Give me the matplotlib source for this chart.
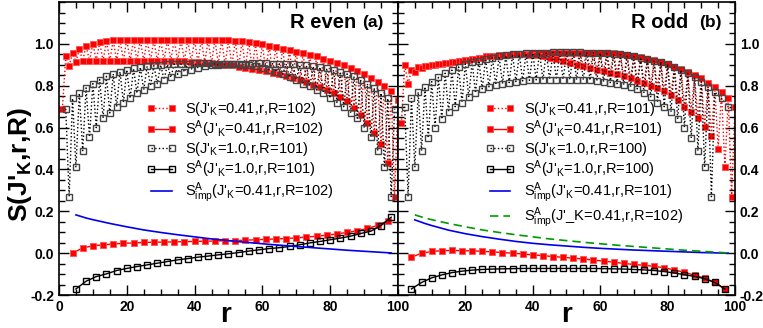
import matplotlib
matplotlib.use("Agg")
import matplotlib.pyplot as plt
import numpy as np
from matplotlib.ticker import MultipleLocator

plt.rcParams['font.family'] = ['Liberation Sans', 'DejaVu Sans']
plt.rcParams['mathtext.fontset'] = 'custom'
plt.rcParams['mathtext.rm'] = 'Liberation Sans'
plt.rcParams['mathtext.it'] = 'Liberation Sans'
plt.rcParams['mathtext.bf'] = 'Liberation Sans:bold'

# ---------------- panel (a): R even ----------------
# S(J'_K=0.41, r, R=102): odd r (lower branch) / even r (upper branch)
red_a_odd = [0.69, 0.895, 0.915, 0.92, 0.92, 0.92, 0.92, 0.92, 0.92, 0.92,
             0.92, 0.92, 0.92, 0.92, 0.92, 0.92, 0.92, 0.92, 0.918, 0.915,
             0.912, 0.91, 0.908, 0.905, 0.90, 0.897, 0.892, 0.887, 0.882, 0.876,
             0.87, 0.862, 0.855, 0.845, 0.837, 0.828, 0.817, 0.806, 0.793, 0.78,
             0.765, 0.748, 0.725, 0.695, 0.66, 0.62, 0.575, 0.52, 0.43, 0.27]
red_a_even = [0.94, 0.955, 0.975, 0.99, 1.0, 1.008, 1.013, 1.017, 1.02, 1.02,
              1.02, 1.02, 1.02, 1.02, 1.02, 1.02, 1.02, 1.02, 1.02, 1.02,
              1.02, 1.02, 1.02, 1.02, 1.018, 1.015, 1.012, 1.008, 1.003, 0.998,
              0.992, 0.986, 0.978, 0.97, 0.962, 0.955, 0.947, 0.94, 0.93, 0.92,
              0.91, 0.898, 0.885, 0.87, 0.855, 0.838, 0.82, 0.80, 0.775, 0.73]

# S(J'_K=1.0, r, R=101): even r 2..98 / odd r 3..99
blk_a_even = [0.69, 0.74, 0.765, 0.79, 0.81, 0.83, 0.845, 0.857, 0.867, 0.876,
              0.883, 0.889, 0.893, 0.897, 0.90, 0.902, 0.904, 0.905, 0.906, 0.907,
              0.907, 0.907, 0.906, 0.905, 0.903, 0.902, 0.90, 0.897, 0.893, 0.887,
              0.877, 0.866, 0.855, 0.84, 0.83, 0.81, 0.80, 0.78, 0.765, 0.74,
              0.72, 0.70, 0.67, 0.645, 0.60, 0.555, 0.49, 0.41, 0.27]
blk_a_odd = [0.27, 0.41, 0.49, 0.555, 0.60, 0.645, 0.67, 0.70, 0.72, 0.74,
             0.765, 0.78, 0.80, 0.81, 0.83, 0.84, 0.855, 0.866, 0.877, 0.887,
             0.893, 0.897, 0.90, 0.902, 0.903, 0.905, 0.906, 0.907, 0.907, 0.907,
             0.906, 0.905, 0.904, 0.902, 0.90, 0.897, 0.893, 0.889, 0.883, 0.876,
             0.867, 0.857, 0.845, 0.83, 0.81, 0.79, 0.765, 0.74, 0.69]

# S^A, every third site
rA_red_a = np.arange(4, 98, 3)
SA_red_a = [0.0, 0.025, 0.035, 0.04, 0.044, 0.047, 0.049, 0.051, 0.052, 0.053,
            0.054, 0.055, 0.056, 0.057, 0.058, 0.059, 0.06, 0.062, 0.064, 0.066,
            0.068, 0.07, 0.073, 0.077, 0.081, 0.086, 0.092, 0.099, 0.107, 0.118,
            0.133, 0.155]
rA_blk_a = np.arange(5, 99, 3)
SA_blk_a = [-0.171, -0.134, -0.112, -0.099, -0.083, -0.073, -0.064, -0.056, -0.048, -0.040,
            -0.032, -0.026, -0.019, -0.014, -0.008, -0.003, 0.003, 0.01, 0.016, 0.022,
            0.026, 0.032, 0.04, 0.049, 0.056, 0.064, 0.072, 0.081, 0.094, 0.105,
            0.132, 0.172]

# S^A_imp(J'_K=0.41, R=102)
r_imp = [5, 8, 10, 15, 20, 25, 30, 35, 40, 45, 50, 55, 60, 65, 70, 75, 80, 85, 90, 95, 98]
imp_102 = [0.183, 0.168, 0.16, 0.142, 0.126, 0.111, 0.099, 0.088, 0.078, 0.068,
           0.06, 0.052, 0.045, 0.038, 0.032, 0.026, 0.02, 0.014, 0.009, 0.004, 0.001]

# ---------------- panel (b): R odd ----------------
# S(J'_K=0.41, r, R=101)
red_b_odd = [0.62, 0.81, 0.865, 0.885, 0.895, 0.90, 0.905, 0.91, 0.915, 0.92,
             0.925, 0.93, 0.935, 0.94, 0.943, 0.946, 0.948, 0.95, 0.95, 0.948,
             0.945, 0.94, 0.935, 0.927, 0.918, 0.91, 0.90, 0.893, 0.885, 0.877,
             0.87, 0.862, 0.855, 0.845, 0.835, 0.823, 0.812, 0.80, 0.79, 0.775,
             0.755, 0.73, 0.70, 0.675, 0.645, 0.605, 0.56, 0.50, 0.41, 0.27]
red_b_even = [0.90, 0.875, 0.89, 0.895, 0.90, 0.905, 0.91, 0.915, 0.92, 0.925,
              0.93, 0.935, 0.94, 0.943, 0.946, 0.948, 0.95, 0.952, 0.954, 0.955,
              0.957, 0.957, 0.957, 0.957, 0.957, 0.957, 0.957, 0.957, 0.957, 0.957,
              0.957, 0.957, 0.953, 0.948, 0.943, 0.937, 0.93, 0.922, 0.913, 0.903,
              0.892, 0.88, 0.865, 0.85, 0.835, 0.815, 0.795, 0.77, 0.74, 0.70]

# S(J'_K=1.0, r, R=100): even r 2..98 (upper) / odd r 3..97 (lower)
blk_b_even = [0.70, 0.74, 0.77, 0.795, 0.82, 0.84, 0.86, 0.875, 0.89, 0.905,
              0.915, 0.92, 0.93, 0.935, 0.94, 0.945, 0.95, 0.952, 0.955, 0.957,
              0.958, 0.959, 0.96, 0.96, 0.96, 0.96, 0.96, 0.959, 0.958, 0.957,
              0.955, 0.952, 0.95, 0.945, 0.94, 0.935, 0.93, 0.92, 0.915, 0.905,
              0.89, 0.875, 0.86, 0.84, 0.82, 0.795, 0.77, 0.74, 0.70]
blk_b_odd = [0.27, 0.41, 0.49, 0.55, 0.60, 0.64, 0.675, 0.70, 0.72, 0.745,
             0.765, 0.785, 0.795, 0.805, 0.81, 0.815, 0.82, 0.823, 0.826, 0.828,
             0.829, 0.83, 0.83, 0.83, 0.83, 0.829, 0.828, 0.826, 0.823, 0.82,
             0.815, 0.81, 0.805, 0.795, 0.785, 0.765, 0.745, 0.72, 0.70, 0.675,
             0.64, 0.60, 0.55, 0.49, 0.41, 0.27]

rA_b = np.arange(4, 98, 3)
SA_red_b = [-0.02, 0.0, 0.008, 0.012, 0.013, 0.012, 0.011, 0.009, 0.006, 0.003,
            0.0, -0.004, -0.008, -0.012, -0.016, -0.02, -0.024, -0.028, -0.033, -0.038,
            -0.043, -0.049, -0.054, -0.058, -0.063, -0.070, -0.080, -0.092, -0.105, -0.12,
            -0.14, -0.172]
SA_blk_b = [-0.171, -0.14, -0.118, -0.104, -0.093, -0.086, -0.081, -0.078, -0.076, -0.075,
            -0.074, -0.073, -0.073, -0.073, -0.073, -0.073, -0.073, -0.073, -0.073, -0.074,
            -0.075, -0.076, -0.078, -0.080, -0.083, -0.088, -0.095, -0.103, -0.111, -0.122,
            -0.14, -0.171]

imp_101 = [0.159, 0.142, 0.132, 0.11, 0.093, 0.079, 0.067, 0.056, 0.047, 0.04,
           0.034, 0.028, 0.023, 0.019, 0.015, 0.012, 0.009, 0.006, 0.003, 0.001, 0.0]

yticks = [-0.2, 0.0, 0.2, 0.4, 0.6, 0.8, 1.0]
ylabels = ['-0.2', '0.0', '0.2', '0.4', '0.6', '0.8', '1.0']


def zigzag(odd_vals, even_vals, r_odd0, r_even0):
    r = np.concatenate([r_odd0 + 2 * np.arange(len(odd_vals)),
                        r_even0 + 2 * np.arange(len(even_vals))])
    v = np.concatenate([odd_vals, even_vals])
    o = np.argsort(r)
    return r[o], v[o]


RED = '#ff0000'
fig = plt.figure(figsize=(7.63, 3.28), dpi=100)
ax1 = fig.add_axes([0.0773, 0.1006, 0.4443, 0.893])
ax2 = fig.add_axes([0.5216, 0.1006, 0.4417, 0.893])

red_kw = dict(marker='s', ms=5, mfc=RED, mec='#ff5050', mew=0.6, color=RED, lw=1.0)
gry_kw = dict(marker='s', ms=5, mfc='none', mec='#444444', mew=1.0, color='black', lw=1.0)
blk_kw = dict(marker='s', ms=5, mfc='none', mec='black', mew=1.0, color='black', lw=1.0)

# panel a
r, v = zigzag(red_a_odd, red_a_even, 1, 2)
ax1.plot(r, v, ls=':', label="S(J'$_K$=0.41,r,R=102)", **red_kw)
ax1.plot(rA_red_a, SA_red_a, ls='-', label="S$^A$(J'$_K$=0.41,r,R=102)", **red_kw)
r, v = zigzag(blk_a_odd, blk_a_even, 3, 2)
ax1.plot(r, v, ls=':', label="S(J'$_K$=1.0,r,R=101)", **gry_kw)
ax1.plot(rA_blk_a, SA_blk_a, ls='-', label="S$^A$(J'$_K$=1.0,r,R=101)", **blk_kw)
ax1.plot(r_imp, imp_102, color='#0000ee', lw=1.2, label="S$^A_{imp}$(J'$_K$=0.41,r,R=102)")

# panel b
r, v = zigzag(red_b_odd, red_b_even, 1, 2)
ax2.plot(r, v, ls=':', label="S(J'$_K$=0.41,r,R=101)", **red_kw)
ax2.plot(rA_b, SA_red_b, ls='-', label="S$^A$(J'$_K$=0.41,r,R=101)", **red_kw)
r, v = zigzag(blk_b_odd, blk_b_even, 3, 2)
ax2.plot(r, v, ls=':', label="S(J'$_K$=1.0,r,R=100)", **gry_kw)
ax2.plot(rA_b, SA_blk_b, ls='-', label="S$^A$(J'$_K$=1.0,r,R=100)", **blk_kw)
ax2.plot(r_imp, imp_101, color='#0000ee', lw=1.2, label="S$^A_{imp}$(J'$_K$=0.41,r,R=101)")
ax2.plot(r_imp, imp_102, color='#009900', lw=1.2, ls=(0, (5, 3)),
         label="S$^A_{imp}$(J'_K=0.41,r,R=102)")

for ax in (ax1, ax2):
    ax.set_xlim(0, 100)
    ax.xaxis.set_major_locator(MultipleLocator(20))
    ax.xaxis.set_minor_locator(MultipleLocator(5))
    ax.yaxis.set_minor_locator(MultipleLocator(0.05))
    ax.set_yticks(yticks)
    ax.set_ylim(-0.2, 1.2)
    ax.tick_params(which='both', direction='in', top=True, right=True, left=True,
                   width=1.0, labelsize=10)
    ax.tick_params(which='major', length=7)
    ax.tick_params(which='minor', length=4)
    for sp in ax.spines.values():
        sp.set_linewidth(1.2)
    ax.legend(loc='upper left', bbox_to_anchor=(0.26, 0.665), frameon=False,
              fontsize=10.5, handlelength=2.0, handletextpad=0.6, numpoints=2,
              labelspacing=0.02, borderaxespad=0, borderpad=0)

ax1.set_yticklabels(ylabels, fontweight='bold')
ax1.set_xticks([0, 20, 40, 60, 80, 100])
ax1.set_xticklabels(['0', '20', '40', '60', '80', '100'], fontweight='bold')
ax2.yaxis.tick_right()
ax2.tick_params(which='both', left=True, right=True, direction='in')
ax2.set_yticklabels(ylabels, fontweight='bold')
ax2.set_xticks([20, 40, 60, 80, 100])
ax2.set_xticklabels(['20', '40', '60', '80', '100'], fontweight='bold')

fig.text(0.026, 0.5, "S(J'$_\\mathbf{K}$,r,R)", rotation=90, fontsize=19,
         fontweight='bold', ha='center', va='center')
fig.text(0.296, 0.0, 'r', fontsize=20, fontweight='bold', ha='center', va='bottom')
fig.text(0.742, 0.0, 'r', fontsize=20, fontweight='bold', ha='center', va='bottom')

ax1.text(0.68, 0.932, 'R even', transform=ax1.transAxes, fontsize=14.5,
         fontweight='bold', va='center')
ax1.text(0.895, 0.932, '(a)', transform=ax1.transAxes, fontsize=12.5,
         fontweight='bold', va='center')
ax2.text(0.69, 0.932, 'R odd', transform=ax2.transAxes, fontsize=14.5,
         fontweight='bold', va='center')
ax2.text(0.895, 0.932, '(b)', transform=ax2.transAxes, fontsize=12.5,
         fontweight='bold', va='center')

fig.savefig('out.png', dpi=100)
